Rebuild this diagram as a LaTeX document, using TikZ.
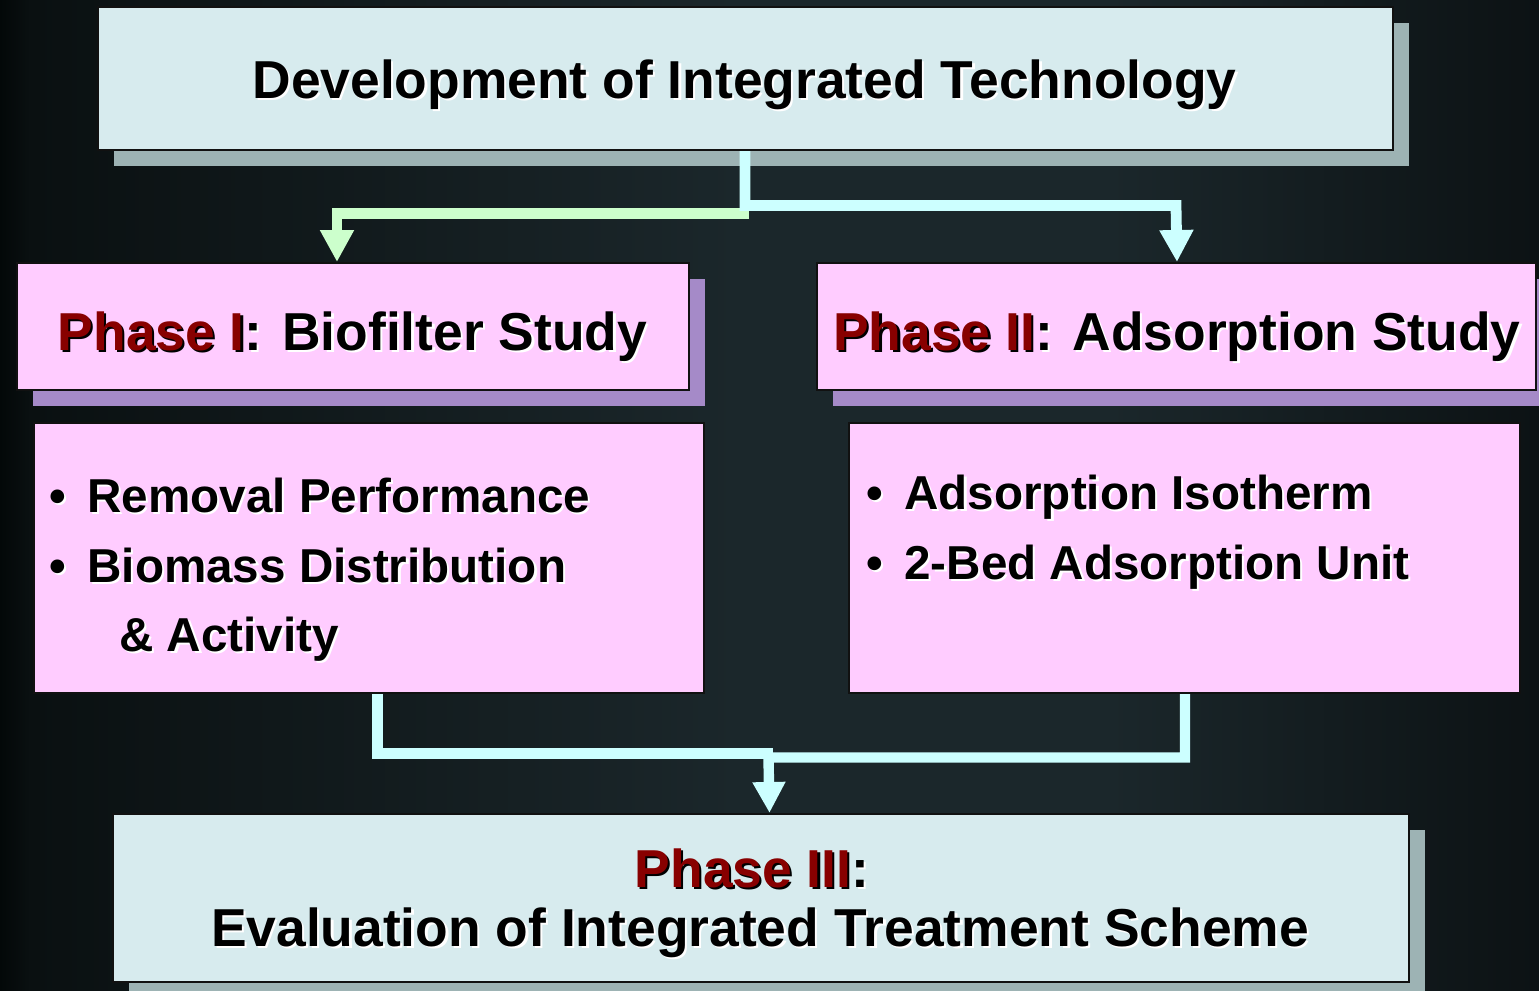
\documentclass[tikz,border=0pt]{standalone}
\usepackage{fontspec}
\setmainfont{Liberation Sans}
\usetikzlibrary{arrows.meta,shadows,calc}

\definecolor{bgA}{HTML}{030808}
\definecolor{bgB}{HTML}{0A1011}
\definecolor{bgC}{HTML}{1B272B}
\definecolor{bgD}{HTML}{0C1214}
\definecolor{paleblue}{HTML}{D7EBEE}
\definecolor{pinkfill}{HTML}{FFCCFF}
\definecolor{tealshade}{HTML}{9DB3B4}
\definecolor{lilacshade}{HTML}{A58AC8}
\definecolor{boxline}{HTML}{111111}
\definecolor{cyanflow}{HTML}{CCFFFF}
\definecolor{greenflow}{HTML}{CCFFCC}
\definecolor{phred}{HTML}{880000}

% TikZ stretches the 25bp--75bp band of a shading over the filled path
\pgfdeclarehorizontalshading{backdrop}{100bp}{%
  color(0bp)=(bgA); color(25bp)=(bgA); color(26bp)=(bgB);
  color(49bp)=(bgC); color(61bp)=(bgC); color(75bp)=(bgD); color(100bp)=(bgD)}

% text with a small offset shadow: #1 shadow colour, #2 text colour
\newcommand{\txsh}[3]{\rlap{\hspace{1.1pt}\raisebox{-1.1pt}{\textcolor{#1}{#3}}}\textcolor{#2}{#3}}

\tikzset{
  box/.style={draw=boxline, line width=1pt, inner sep=0pt, anchor=north west},
  lightbox/.style={box, fill=paleblue,
    drop shadow={shadow xshift=8pt, shadow yshift=-8pt, fill=tealshade, opacity=1}},
  pinkbox/.style={box, fill=pinkfill},
  pinkshadowed/.style={pinkbox,
    drop shadow={shadow xshift=8pt, shadow yshift=-8pt, fill=lilacshade, opacity=1}},
  headtext/.style={font=\bfseries\fontsize{26.7pt}{30pt}\selectfont, inner sep=0pt, anchor=base},
  itemtext/.style={font=\bfseries\fontsize{23.8pt}{28pt}\selectfont, inner sep=0pt, anchor=base west},
  flow/.style={line width=5.4pt, line join=miter, line cap=butt},
  cyflow/.style={flow, draw=cyanflow},
  grflow/.style={flow, draw=greenflow},
  head/.style={-{Triangle[length=16pt,width=16pt]}},
}

\begin{document}
\begin{tikzpicture}[x=0.5pt, y=-0.5pt]
  \useasboundingbox (0,0) rectangle (1539,991);
  \shade[shading=backdrop] (0,0) rectangle (1539,991);

  % boxes
  \node[lightbox, minimum width=647.5pt, minimum height=71.5pt] (top) at (97,6) {};
  \node[pinkshadowed, minimum width=336pt, minimum height=63.5pt] (p1) at (16,262) {};
  \node[pinkshadowed, minimum width=359.5pt, minimum height=63.5pt] (p2) at (816,262) {};
  \node[pinkbox, minimum width=335pt, minimum height=135pt] (c1) at (33,422) {};
  \node[pinkbox, minimum width=335.5pt, minimum height=135pt] (c2) at (848,422) {};
  \node[lightbox, minimum width=648pt, minimum height=84pt] (bot) at (112,813) {};

  % connectors from the top box to both phases
  \coordinate (tj) at (749,213.5);
  \coordinate (tr) at (1176,205.5);
  \draw[grflow, head] (tj) -| ($(p1.north)+(-16,0)$);
  \draw[cyflow, head] ($(top.south)+(-0.5,0)$) |- (tr) -- ($(p2.north)+(0.5,0)$);

  % connectors from both studies to phase III
  \coordinate (mjL) at (773,753.5);
  \coordinate (mj) at (768.5,757.5);
  \draw[cyflow, line width=5.2pt] ($(c1.south)+(8.5,0)$) |- (mjL);
  \draw[cyflow, line width=5.2pt, -{Triangle[length=15.5pt,width=15.5pt]}]
    ($(c2.south)+(0.5,0)$) |- (mj) -- ($(bot.north)+(8.5,0)$);

  % texts
  \node[headtext] (ttl) at (744.5,98)
    {\txsh{white}{black}{Development of Integrated Technology}};
  \node[headtext] (p1t) at (352.5,350)
    {\txsh{black}{phred}{Phase I}\txsh{white}{black}{: Biofilter Study}};
  \node[headtext] (p2t) at (1177,350)
    {\txsh{black}{phred}{Phase II}\txsh{white}{black}{: Adsorption Study}};

  \node[itemtext] (i1) at (49,512) {\txsh{white}{black}{•\hspace{0.45em}Removal Performance}};
  \node[itemtext] (i2) at (49,582) {\txsh{white}{black}{•\hspace{0.45em}Biomass Distribution}};
  \node[itemtext] (i3) at (119,651) {\txsh{white}{black}{\& Activity}};
  \node[itemtext] (i4) at (866,509) {\txsh{white}{black}{•\hspace{0.45em}Adsorption Isotherm}};
  \node[itemtext] (i5) at (866,579) {\txsh{white}{black}{•\hspace{0.45em}2-Bed Adsorption Unit}};

  \node[headtext] (p3t) at (752,887)
    {\txsh{black}{phred}{Phase III}\txsh{white}{black}{:}};
  \node[headtext] (p3s) at (760,946)
    {\txsh{white}{black}{Evaluation of Integrated Treatment Scheme}};
\end{tikzpicture}
\end{document}
